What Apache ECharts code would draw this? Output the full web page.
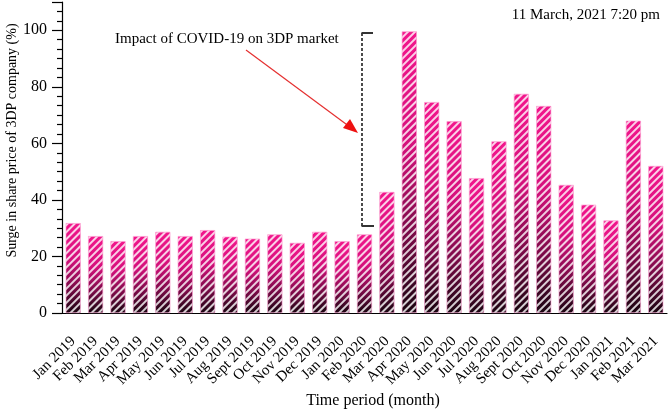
<!DOCTYPE html>
<html>
<head>
<meta charset="utf-8">
<script src="https://cdn.jsdelivr.net/npm/echarts@6/dist/echarts.min.js"></script>
<style>
html,body{margin:0;padding:0;background:#fff;}
#chart{width:670px;height:414px;}
</style>
</head>
<body>
<div id="chart"></div>
<script>
var categories = ['Jan 2019','Feb 2019','Mar 2019','Apr 2019','May 2019','Jun 2019','Jul 2019','Aug 2019','Sept 2019','Oct 2019','Nov 2019','Dec 2019','Jan 2020','Feb 2020','Mar 2020','Apr 2020','May 2020','Jun 2020','Jul 2020','Aug 2020','Sept 2020','Oct 2020','Nov 2020','Dec 2020','Jan 2021','Feb 2021','Mar 2021'];
var surge = [31.8, 27.2, 25.4, 27.2, 28.7, 27.2, 29.3, 27.0, 26.3, 27.8, 24.8, 28.7, 25.4, 27.8, 42.8, 99.6, 74.6, 67.8, 47.7, 60.7, 77.5, 73.2, 45.3, 38.3, 32.7, 68.0, 52.0];
var yTicks = [0, 20, 40, 60, 80, 100];

var serif = 'Liberation Serif';
var chart = echarts.init(document.getElementById('chart'));
var grad = new echarts.graphic.LinearGradient(0, 0, 0, 1, [
  {offset: 0, color: '#f2168c'},
  {offset: 0.4, color: '#d5117c'},
  {offset: 0.72, color: '#7a0a47'},
  {offset: 1, color: '#1a0410'}
]);
chart.setOption({
  animation: false,
  backgroundColor: '#fff',
  grid: {left: 62, right: 3, top: 2, bottom: 101, containLabel: false, outerBoundsMode: 'none'},
  xAxis: [{
    type: 'category',
    data: categories,
    boundaryGap: true,
    axisLine: {lineStyle: {color: '#000', width: 1.2}},
    axisTick: {alignWithLabel: true, length: 9, lineStyle: {color: '#000', width: 1.2}},
    axisLabel: {rotate: 45, interval: 0, margin: 26, color: '#000', fontFamily: serif, fontSize: 15},
    name: 'Time period (month)',
    nameLocation: 'middle',
    nameGap: 80,
    nameMoveOverlap: false,
    nameTextStyle: {color: '#000', fontFamily: serif, fontSize: 16, padding: [0, 0, 0, 17]}
  }, {
    type: 'category',
    data: categories,
    position: 'bottom',
    boundaryGap: true,
    axisLine: {show: false},
    axisTick: {alignWithLabel: false, length: 5, lineStyle: {color: '#000', width: 1.2}},
    axisLabel: {show: false}
  }],
  yAxis: {
    type: 'value',
    min: 0, max: 110, interval: 20,
    axisLine: {show: true, lineStyle: {color: '#000', width: 1.2}},
    axisTick: {show: true, length: 10, lineStyle: {color: '#000', width: 1.2}},
    minorTick: {show: true, splitNumber: 6, length: 5, lineStyle: {color: '#000', width: 1.2}},
    splitLine: {show: false},
    axisLabel: {
      margin: 15, color: '#000', fontFamily: serif, fontSize: 16,
      formatter: function (v) { return yTicks.indexOf(v) >= 0 ? String(v) : ''; }
    },
    name: 'Surge in share price of 3DP company (%)',
    nameLocation: 'middle',
    nameGap: 43,
    nameMoveOverlap: false,
    nameTextStyle: {color: '#000', fontFamily: serif, fontSize: 14, padding: [0, 0, 0, 34]}
  },
  series: [{
    type: 'bar',
    data: surge,
    barWidth: '67%',
    itemStyle: {
      color: grad,
      borderColor: 'rgba(255,160,210,0.6)',
      borderWidth: 0.6,
      decal: {
        symbol: 'rect',
        dashArrayX: [1, 0],
        dashArrayY: [1.1, 2.9],
        rotation: -Math.PI / 4,
        color: 'rgba(255,255,255,0.8)'
      }
    }
  }],
  graphic: [
    {type: 'text', left: 115, top: 32, style: {text: 'Impact of COVID-19 on 3DP market', font: '15px "Liberation Serif"', fill: '#000'}},
    {type: 'text', right: 10, top: 8, style: {text: '11 March, 2021 7:20 pm', font: '15px "Liberation Serif"', fill: '#000'}},
    {type: 'line', shape: {x1: 246, y1: 50, x2: 350, y2: 127}, style: {stroke: '#e53030', lineWidth: 1.2}},
    {type: 'polygon', shape: {points: [[358, 133], [343, 128], [350, 119]]}, style: {fill: '#ee1111'}},
    {type: 'line', shape: {x1: 362, y1: 33, x2: 362, y2: 226}, style: {stroke: '#111', lineWidth: 1.5, lineDash: [3, 2]}},
    {type: 'line', shape: {x1: 361.5, y1: 33, x2: 373, y2: 33}, style: {stroke: '#333', lineWidth: 2}},
    {type: 'line', shape: {x1: 361.5, y1: 226, x2: 374, y2: 226}, style: {stroke: '#333', lineWidth: 2}}
  ]
});
</script>
</body>
</html>
